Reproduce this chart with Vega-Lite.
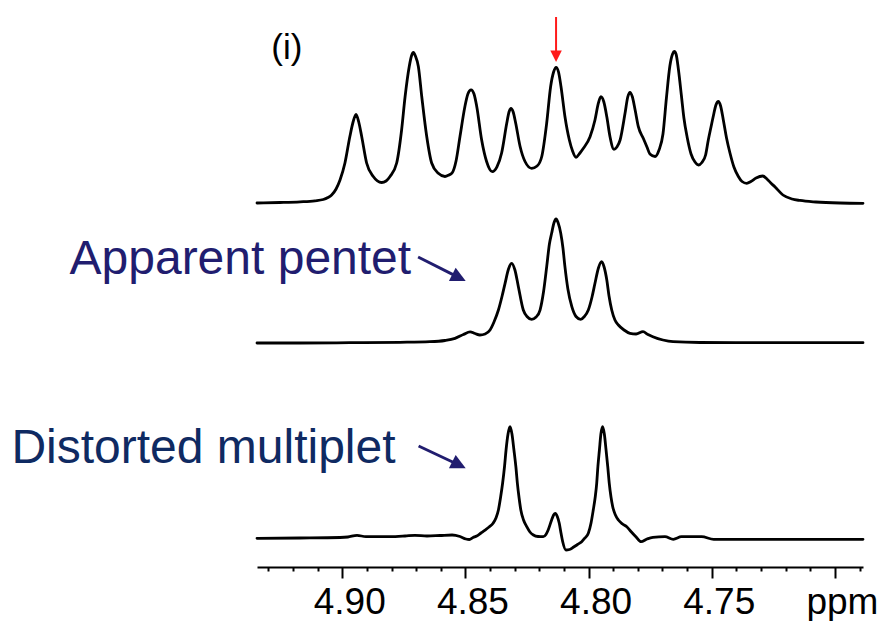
{
  "$schema": "https://vega.github.io/schema/vega-lite/v6.json",
  "width": 606,
  "height": 567,
  "autosize": {"type": "none"},
  "padding": {"left": 257, "top": 0, "right": 21, "bottom": 54},
  "background": "white",
  "config": {"view": {"stroke": null}, "font": "Liberation Sans"},
  "datasets": {
    "top": [
      {"ppm": 4.9346, "v": 0}, {"ppm": 4.9253, "v": 0.33}, {"ppm": 4.9171, "v": 0.8}, {"ppm": 4.9111, "v": 1.47},
      {"ppm": 4.9077, "v": 2.33}, {"ppm": 4.9058, "v": 3.67}, {"ppm": 4.9043, "v": 5.33}, {"ppm": 4.9025, "v": 9.33},
      {"ppm": 4.9009, "v": 15.33}, {"ppm": 4.8989, "v": 26.67}, {"ppm": 4.8969, "v": 44.33}, {"ppm": 4.8956, "v": 54},
      {"ppm": 4.8944, "v": 59.13}, {"ppm": 4.8933, "v": 54}, {"ppm": 4.8921, "v": 44.33}, {"ppm": 4.8901, "v": 26.67},
      {"ppm": 4.8874, "v": 17.67}, {"ppm": 4.884, "v": 13.67}, {"ppm": 4.8822, "v": 14.67}, {"ppm": 4.8806, "v": 17.67},
      {"ppm": 4.8779, "v": 26.67}, {"ppm": 4.8759, "v": 48.67}, {"ppm": 4.8745, "v": 70.67}, {"ppm": 4.8728, "v": 91},
      {"ppm": 4.8719, "v": 98}, {"ppm": 4.8711, "v": 100.33}, {"ppm": 4.8703, "v": 98}, {"ppm": 4.8691, "v": 91},
      {"ppm": 4.8677, "v": 70.67}, {"ppm": 4.8657, "v": 44.33}, {"ppm": 4.8637, "v": 26.67}, {"ppm": 4.861, "v": 19.8},
      {"ppm": 4.8583, "v": 17.67}, {"ppm": 4.8567, "v": 18.67}, {"ppm": 4.8554, "v": 20}, {"ppm": 4.8538, "v": 28},
      {"ppm": 4.8522, "v": 44.33}, {"ppm": 4.8502, "v": 64.33}, {"ppm": 4.849, "v": 72.67}, {"ppm": 4.8477, "v": 75.47},
      {"ppm": 4.8465, "v": 72.67}, {"ppm": 4.8454, "v": 64.33}, {"ppm": 4.8434, "v": 42}, {"ppm": 4.8414, "v": 27.67},
      {"ppm": 4.8391, "v": 20.87}, {"ppm": 4.8372, "v": 24}, {"ppm": 4.8353, "v": 33.33}, {"ppm": 4.8332, "v": 53.33},
      {"ppm": 4.8323, "v": 60.67}, {"ppm": 4.8315, "v": 63.13}, {"ppm": 4.8306, "v": 60.67}, {"ppm": 4.8296, "v": 53.33},
      {"ppm": 4.8278, "v": 37.67}, {"ppm": 4.8258, "v": 27.67}, {"ppm": 4.8231, "v": 23.13}, {"ppm": 4.8209, "v": 24.67},
      {"ppm": 4.819, "v": 31}, {"ppm": 4.817, "v": 53.33}, {"ppm": 4.8154, "v": 77.67}, {"ppm": 4.8142, "v": 87.33},
      {"ppm": 4.8132, "v": 90.47}, {"ppm": 4.8122, "v": 87.33}, {"ppm": 4.8112, "v": 77.67}, {"ppm": 4.8096, "v": 57.67},
      {"ppm": 4.8078, "v": 42}, {"ppm": 4.8065, "v": 34.67}, {"ppm": 4.8051, "v": 30.47}, {"ppm": 4.8035, "v": 33.33},
      {"ppm": 4.8021, "v": 36.47}, {"ppm": 4.7994, "v": 44.2}, {"ppm": 4.7974, "v": 55.33}, {"ppm": 4.796, "v": 66.67},
      {"ppm": 4.795, "v": 70.87}, {"ppm": 4.7938, "v": 67.33}, {"ppm": 4.7926, "v": 57.53}, {"ppm": 4.7913, "v": 44.2},
      {"ppm": 4.7897, "v": 35.8}, {"ppm": 4.7885, "v": 37.33}, {"ppm": 4.7872, "v": 42}, {"ppm": 4.7852, "v": 59.8},
      {"ppm": 4.7841, "v": 70.67}, {"ppm": 4.7832, "v": 73.8}, {"ppm": 4.7822, "v": 70.67}, {"ppm": 4.7811, "v": 62},
      {"ppm": 4.7798, "v": 50.87}, {"ppm": 4.7778, "v": 43.13}, {"ppm": 4.7763, "v": 37.33}, {"ppm": 4.7751, "v": 32.67},
      {"ppm": 4.773, "v": 31}, {"ppm": 4.7714, "v": 35.33}, {"ppm": 4.7698, "v": 46}, {"ppm": 4.7684, "v": 70},
      {"ppm": 4.767, "v": 91.33}, {"ppm": 4.7659, "v": 99.33}, {"ppm": 4.7652, "v": 101}, {"ppm": 4.7645, "v": 99.33},
      {"ppm": 4.7635, "v": 88.67}, {"ppm": 4.7623, "v": 71.33}, {"ppm": 4.7613, "v": 56.67}, {"ppm": 4.76, "v": 44},
      {"ppm": 4.7584, "v": 32.67}, {"ppm": 4.7568, "v": 27.33}, {"ppm": 4.7554, "v": 25.33}, {"ppm": 4.754, "v": 27},
      {"ppm": 4.7525, "v": 32}, {"ppm": 4.7514, "v": 42}, {"ppm": 4.7503, "v": 50.67}, {"ppm": 4.7494, "v": 57.67},
      {"ppm": 4.7483, "v": 65.33}, {"ppm": 4.7473, "v": 67.67}, {"ppm": 4.7464, "v": 64.67}, {"ppm": 4.7453, "v": 55.33},
      {"ppm": 4.744, "v": 43.33}, {"ppm": 4.7426, "v": 33.33}, {"ppm": 4.741, "v": 24}, {"ppm": 4.7392, "v": 17.67},
      {"ppm": 4.7377, "v": 14.33}, {"ppm": 4.7358, "v": 13.13}, {"ppm": 4.7341, "v": 14.33}, {"ppm": 4.732, "v": 16.67},
      {"ppm": 4.7293, "v": 18}, {"ppm": 4.7276, "v": 16}, {"ppm": 4.726, "v": 13.33}, {"ppm": 4.7243, "v": 10.67},
      {"ppm": 4.7211, "v": 5.33}, {"ppm": 4.7174, "v": 2.67}, {"ppm": 4.7142, "v": 1.67}, {"ppm": 4.7077, "v": 0.67},
      {"ppm": 4.6979, "v": 0}, {"ppm": 4.6886, "v": -0.2}
    ],
    "middle": [
      {"ppm": 4.9346, "v": -0.2}, {"ppm": 4.9171, "v": -0.2}, {"ppm": 4.8969, "v": 0}, {"ppm": 4.8766, "v": 0.27},
      {"ppm": 4.8644, "v": 0.67}, {"ppm": 4.8583, "v": 1.47}, {"ppm": 4.8542, "v": 2.93}, {"ppm": 4.8508, "v": 5.47},
      {"ppm": 4.8481, "v": 7.27}, {"ppm": 4.8461, "v": 6.13}, {"ppm": 4.8441, "v": 5.13}, {"ppm": 4.842, "v": 5.8},
      {"ppm": 4.84, "v": 8.47}, {"ppm": 4.8384, "v": 13.8}, {"ppm": 4.8366, "v": 21.8}, {"ppm": 4.8351, "v": 31.13},
      {"ppm": 4.8339, "v": 39.6}, {"ppm": 4.8325, "v": 49.13}, {"ppm": 4.8312, "v": 52.93}, {"ppm": 4.8299, "v": 48.47},
      {"ppm": 4.8285, "v": 37.33}, {"ppm": 4.8265, "v": 21.8}, {"ppm": 4.825, "v": 17.47}, {"ppm": 4.8231, "v": 15.6},
      {"ppm": 4.8213, "v": 17.13}, {"ppm": 4.8197, "v": 21.8}, {"ppm": 4.8183, "v": 33.8}, {"ppm": 4.817, "v": 50.67},
      {"ppm": 4.8159, "v": 65.8}, {"ppm": 4.815, "v": 72.93}, {"ppm": 4.814, "v": 80.13}, {"ppm": 4.8132, "v": 82.47},
      {"ppm": 4.8124, "v": 80.13}, {"ppm": 4.8113, "v": 72.93}, {"ppm": 4.8104, "v": 63.13}, {"ppm": 4.8096, "v": 50.67},
      {"ppm": 4.8084, "v": 35.8}, {"ppm": 4.8068, "v": 24}, {"ppm": 4.8051, "v": 17.47}, {"ppm": 4.8032, "v": 15.6},
      {"ppm": 4.8017, "v": 17.47}, {"ppm": 4.8001, "v": 21.8}, {"ppm": 4.7986, "v": 30.47}, {"ppm": 4.7974, "v": 39.6},
      {"ppm": 4.796, "v": 49.8}, {"ppm": 4.7947, "v": 54}, {"ppm": 4.7937, "v": 50.47}, {"ppm": 4.7926, "v": 41.8},
      {"ppm": 4.7917, "v": 31.13}, {"ppm": 4.7906, "v": 21.8}, {"ppm": 4.7893, "v": 15.13}, {"ppm": 4.7879, "v": 11.8},
      {"ppm": 4.7856, "v": 8.47}, {"ppm": 4.7832, "v": 6.27}, {"ppm": 4.7807, "v": 5.8}, {"ppm": 4.7779, "v": 7.33},
      {"ppm": 4.7759, "v": 5.47}, {"ppm": 4.7739, "v": 4}, {"ppm": 4.7698, "v": 1.8}, {"ppm": 4.7657, "v": 0.67},
      {"ppm": 4.7548, "v": 0.13}, {"ppm": 4.7304, "v": 0}, {"ppm": 4.7061, "v": 0}, {"ppm": 4.6886, "v": 0}
    ],
    "bottom": [
      {"ppm": 4.9346, "v": -0.2}, {"ppm": 4.9171, "v": 0}, {"ppm": 4.9009, "v": 0.33}, {"ppm": 4.8977, "v": 0.67},
      {"ppm": 4.894, "v": 1.8}, {"ppm": 4.8904, "v": 0.87}, {"ppm": 4.8806, "v": 0.87}, {"ppm": 4.8745, "v": 1.33},
      {"ppm": 4.8705, "v": 1.8}, {"ppm": 4.8656, "v": 1.33}, {"ppm": 4.8603, "v": 1.67}, {"ppm": 4.8554, "v": 2},
      {"ppm": 4.8522, "v": 1}, {"ppm": 4.8498, "v": -0.67}, {"ppm": 4.8484, "v": -1}, {"ppm": 4.8469, "v": 0.33},
      {"ppm": 4.8454, "v": 1.33}, {"ppm": 4.8437, "v": 3.33}, {"ppm": 4.842, "v": 5.33}, {"ppm": 4.8404, "v": 7.33},
      {"ppm": 4.8387, "v": 10}, {"ppm": 4.8376, "v": 13.33}, {"ppm": 4.8366, "v": 18.67}, {"ppm": 4.8357, "v": 27.33},
      {"ppm": 4.8349, "v": 36.47}, {"ppm": 4.8341, "v": 48}, {"ppm": 4.8335, "v": 58.67}, {"ppm": 4.8327, "v": 69.33},
      {"ppm": 4.8319, "v": 74.2}, {"ppm": 4.8311, "v": 69.33}, {"ppm": 4.8303, "v": 58.67}, {"ppm": 4.8295, "v": 47.33},
      {"ppm": 4.8289, "v": 36.47}, {"ppm": 4.8282, "v": 26.67}, {"ppm": 4.8275, "v": 18.67}, {"ppm": 4.8264, "v": 12},
      {"ppm": 4.8251, "v": 7.53}, {"ppm": 4.8238, "v": 4}, {"ppm": 4.8224, "v": 2}, {"ppm": 4.8205, "v": 1},
      {"ppm": 4.8184, "v": 0.87}, {"ppm": 4.8173, "v": 2.33}, {"ppm": 4.8164, "v": 5.33}, {"ppm": 4.815, "v": 12},
      {"ppm": 4.8142, "v": 15.33}, {"ppm": 4.8135, "v": 16.47}, {"ppm": 4.8127, "v": 14.33}, {"ppm": 4.8119, "v": 9.8},
      {"ppm": 4.8112, "v": 3.33}, {"ppm": 4.8105, "v": -2.47}, {"ppm": 4.8092, "v": -8}, {"ppm": 4.8077, "v": -7.67},
      {"ppm": 4.8062, "v": -6.2}, {"ppm": 4.8045, "v": -4.33}, {"ppm": 4.8028, "v": -2.47}, {"ppm": 4.8015, "v": 0},
      {"ppm": 4.8001, "v": 3.13}, {"ppm": 4.799, "v": 10}, {"ppm": 4.7981, "v": 18.67}, {"ppm": 4.7973, "v": 27.33},
      {"ppm": 4.7967, "v": 36.47}, {"ppm": 4.7962, "v": 48}, {"ppm": 4.7956, "v": 58.67}, {"ppm": 4.795, "v": 69.33},
      {"ppm": 4.7943, "v": 74.2}, {"ppm": 4.7936, "v": 69.33}, {"ppm": 4.7929, "v": 58.67}, {"ppm": 4.7922, "v": 47.33},
      {"ppm": 4.7916, "v": 36.47}, {"ppm": 4.7909, "v": 27.33}, {"ppm": 4.7902, "v": 20.87}, {"ppm": 4.7891, "v": 15.33},
      {"ppm": 4.7879, "v": 12}, {"ppm": 4.7862, "v": 9.33}, {"ppm": 4.7845, "v": 7.53}, {"ppm": 4.7828, "v": 4.33},
      {"ppm": 4.7807, "v": 0.67}, {"ppm": 4.7787, "v": -2.47}, {"ppm": 4.7763, "v": -0.67}, {"ppm": 4.7739, "v": 0.47},
      {"ppm": 4.769, "v": 0.87}, {"ppm": 4.7656, "v": -0.87}, {"ppm": 4.7623, "v": 0.87}, {"ppm": 4.7541, "v": 0.87},
      {"ppm": 4.7492, "v": -0.87}, {"ppm": 4.7304, "v": -0.87}, {"ppm": 4.7061, "v": -0.87}, {"ppm": 4.6886, "v": -0.87}
    ]
  },
  "resolve": {"scale": {"y": "independent"}, "axis": {"x": "independent"}},
  "layer": [
    {
      "data": {"name": "top"},
      "mark": {"type": "line", "interpolate": "monotone", "color": "black", "strokeWidth": 2.8, "strokeCap": "round", "strokeJoin": "round"},
      "encoding": {
        "x": {
          "field": "ppm", "type": "quantitative",
          "scale": {"domain": [4.6886, 4.9346], "reverse": true, "nice": false, "zero": false},
          "axis": {
            "orient": "bottom", "title": null, "grid": false,
            "values": [4.69, 4.70, 4.71, 4.72, 4.73, 4.74, 4.75, 4.76, 4.77, 4.78, 4.79, 4.80, 4.81, 4.82, 4.83, 4.84, 4.85, 4.86, 4.87, 4.88, 4.89, 4.90, 4.91, 4.92, 4.93],
            "domain": true, "domainColor": "black", "domainWidth": 2,
            "ticks": true, "tickColor": "black", "tickWidth": 2,
            "tickSize": {"condition": {"test": "round(datum.value*100) % 5 == 0", "value": 11}, "value": 4},
            "labelExpr": "abs(datum.value - 4.7) < 0.001 ? 'ppm' : (round(datum.value*100) % 5 == 0 ? format(datum.value, '.2f') : '')",
            "labelFont": "Liberation Sans", "labelFontSize": 37, "labelColor": "black",
            "labelBaseline": "alphabetic", "labelPadding": 35, "labelOffset": 7,
            "labelOverlap": false, "labelFlush": false, "labelBound": false
          }
        },
        "y": {"field": "v", "type": "quantitative", "scale": {"domain": [-242.67, 135.33], "nice": false, "zero": false}, "axis": null}
      }
    },
    {
      "data": {"name": "middle"},
      "mark": {"type": "line", "interpolate": "monotone", "color": "black", "strokeWidth": 2.8, "strokeCap": "round", "strokeJoin": "round"},
      "encoding": {
        "x": {"field": "ppm", "type": "quantitative", "axis": null},
        "y": {"field": "v", "type": "quantitative", "scale": {"domain": [-149.53, 228.47], "nice": false, "zero": false}, "axis": null}
      }
    },
    {
      "data": {"name": "bottom"},
      "mark": {"type": "line", "interpolate": "monotone", "color": "black", "strokeWidth": 2.8, "strokeCap": "round", "strokeJoin": "round"},
      "encoding": {
        "x": {"field": "ppm", "type": "quantitative", "axis": null},
        "y": {"field": "v", "type": "quantitative", "scale": {"domain": [-19.33, 358.67], "nice": false, "zero": false}, "axis": null}
      }
    },
    {
      "data": {"values": [{"ppm": 4.9225, "v": 96.33, "label": "(i)"}]},
      "mark": {"type": "text", "fontSize": 35, "font": "Liberation Sans", "color": "black", "align": "center", "baseline": "alphabetic"},
      "encoding": {
        "x": {"field": "ppm", "type": "quantitative", "axis": null},
        "y": {"field": "v", "type": "quantitative", "scale": {"domain": [-242.67, 135.33], "nice": false, "zero": false}, "axis": null},
        "text": {"field": "label"}
      }
    },
    {
      "data": {"values": [{"ppm": 5.0107, "v": -47.33, "label": "Apparent pentet"}]},
      "mark": {"type": "text", "fontSize": 48, "font": "Liberation Sans", "color": "#211d6f", "align": "left", "baseline": "alphabetic"},
      "encoding": {
        "x": {"field": "ppm", "type": "quantitative", "axis": null},
        "y": {"field": "v", "type": "quantitative", "scale": {"domain": [-242.67, 135.33], "nice": false, "zero": false}, "axis": null},
        "text": {"field": "label"}
      }
    },
    {
      "data": {"values": [{"ppm": 5.0343, "v": -173.13, "label": "Distorted multiplet"}]},
      "mark": {"type": "text", "fontSize": 48, "font": "Liberation Sans", "color": "#0f2a62", "align": "left", "baseline": "alphabetic"},
      "encoding": {
        "x": {"field": "ppm", "type": "quantitative", "axis": null},
        "y": {"field": "v", "type": "quantitative", "scale": {"domain": [-242.67, 135.33], "nice": false, "zero": false}, "axis": null},
        "text": {"field": "label"}
      }
    },
    {
      "data": {"values": [{"ppm": 4.8692, "v": -36, "ppm2": 4.8526, "v2": -49.8}, {"ppm": 4.869, "v": -162, "ppm2": 4.8526, "v2": -174.67}]},
      "mark": {"type": "rule", "color": "#211d6f", "strokeWidth": 3},
      "encoding": {
        "x": {"field": "ppm", "type": "quantitative", "axis": null},
        "x2": {"field": "ppm2"},
        "y": {"field": "v", "type": "quantitative", "scale": {"domain": [-242.67, 135.33], "nice": false, "zero": false}, "axis": null},
        "y2": {"field": "v2"}
      }
    },
    {
      "data": {"values": [{"ppm": 4.8526, "v": -49.8}, {"ppm": 4.8526, "v": -174.67}]},
      "mark": {"type": "point", "shape": "M1,0L-1,-1L-1,1Z", "filled": true, "color": "#211d6f", "opacity": 1, "size": 225, "angle": 26.6, "strokeWidth": 0},
      "encoding": {
        "x": {"field": "ppm", "type": "quantitative", "axis": null},
        "y": {"field": "v", "type": "quantitative", "scale": {"domain": [-242.67, 135.33], "nice": false, "zero": false}, "axis": null}
      }
    },
    {
      "data": {"values": [{"ppm": 4.8132, "v": 124, "v2": 98}]},
      "mark": {"type": "rule", "color": "#ff1a1a", "strokeWidth": 2},
      "encoding": {
        "x": {"field": "ppm", "type": "quantitative", "axis": null},
        "y": {"field": "v", "type": "quantitative", "scale": {"domain": [-242.67, 135.33], "nice": false, "zero": false}, "axis": null},
        "y2": {"field": "v2"}
      }
    },
    {
      "data": {"values": [{"ppm": 4.8132, "v": 97.87}]},
      "mark": {"type": "point", "shape": "M0,1L-1,-1L1,-1Z", "filled": true, "color": "#ff1a1a", "opacity": 1, "size": 132, "strokeWidth": 0},
      "encoding": {
        "x": {"field": "ppm", "type": "quantitative", "axis": null},
        "y": {"field": "v", "type": "quantitative", "scale": {"domain": [-242.67, 135.33], "nice": false, "zero": false}, "axis": null}
      }
    }
  ]
}
